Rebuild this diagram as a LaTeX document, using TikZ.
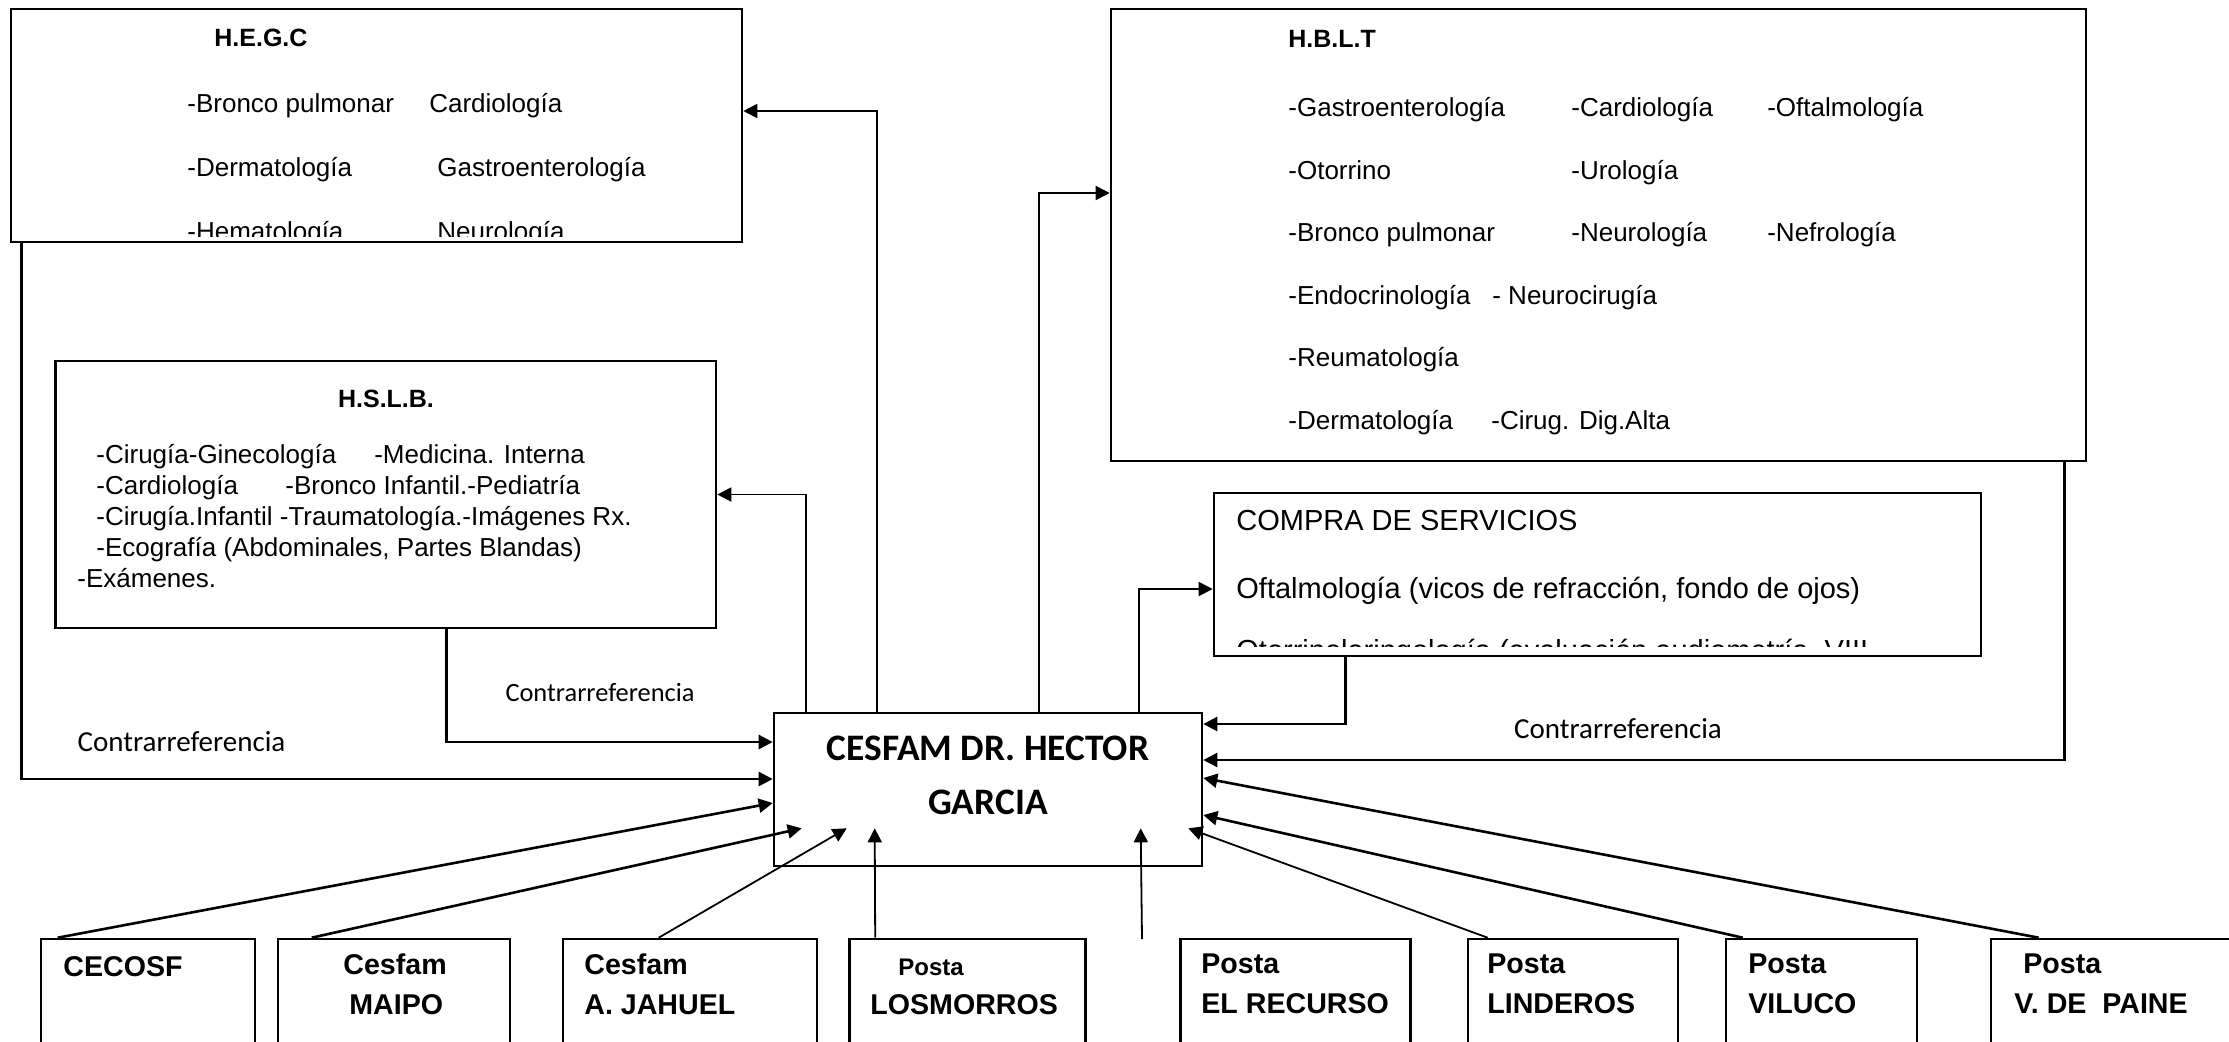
\documentclass[tikz,border=0pt]{standalone}
\usepackage{fontspec}
\setmainfont{Liberation Sans}
\newfontfamily\carlito{Carlito}
\usetikzlibrary{arrows.meta}

\begin{document}
\begin{tikzpicture}[
        x=0.5pt, y=-0.5pt,
        box/.style={rectangle, draw=black, line width=1.3pt, inner sep=0pt},
        stopbox/.style={box, minimum height=80.5pt},
        boxtext/.style={anchor=north west, inner sep=0pt, align=left, font=\fontsize{13}{32.5}\selectfont},
        title/.style={inner sep=0pt, font=\bfseries\fontsize{12.5}{15}\selectfont},
        stoptext/.style={anchor=north west, inner sep=0pt, align=left, font=\bfseries\fontsize{14.3}{20}\selectfont},
        note/.style={inner sep=0pt, font=\carlito\fontsize{14.5}{17}\selectfont},
        arrow/.style={-{Triangle[length=7pt, width=7pt]}, line width=0.9pt},
        thickarrow/.style={arrow, line width=1.3pt}
    ]
    \clip (0,0) rectangle (2229,1041);

    % hospitales
    \node (hegc) [box, minimum width=365.5pt, minimum height=116.5pt] at (376.5,125.5) {};
    \node (hslb) [box, minimum width=330.25pt, minimum height=133.5pt] at (385.75,494.5) {};
    \node (hblt) [box, minimum width=487.5pt, minimum height=226pt] at (1598.5,235) {};
    \node (compra) [box, minimum width=383.5pt, minimum height=81.5pt] at (1597.5,574.5) {};
    \node (cesfam) [box, minimum width=214pt, minimum height=76.5pt] at (988,789.5) {};

    \node (hegctitle) [title, anchor=west] at (214,38) {H.E.G.C};
    \begin{scope}
        \clip (hegc.north west) rectangle ([shift={(0,-7)}]hegc.south east);
        \node (hegctext) [boxtext, font=\fontsize{13}{32}\selectfont] at (187,93) {\makebox[121pt][l]{-Bronco pulmonar}Cardiología\\
            \makebox[125pt][l]{-Dermatología}Gastroenterología\\
            \makebox[125pt][l]{-Hematología}Neurología};
    \end{scope}

    \node (hslbtitle) [title] at (386,399) {H.S.L.B.};
    \node (hslbtext) [boxtext, font=\fontsize{13}{15.5}\selectfont] at (96,444) {\makebox[139pt][l]{-Cirugía-Ginecología}-Medicina. Interna\\
        \makebox[94.5pt][l]{-Cardiología}-Bronco Infantil.-Pediatría\\
        -Cirugía.Infantil -Traumatología.-Imágenes Rx.\\
        -Ecografía (Abdominales, Partes Blandas)\\
        \hspace*{-9.5pt}-Exámenes.};

    \node (hblttitle) [title, anchor=west] at (1288,39) {H.B.L.T};
    \node (hblttext) [boxtext, font=\fontsize{13}{31.3}\selectfont] at (1288,97) {\makebox[141.5pt][l]{-Gastroenterología}\makebox[98pt][l]{-Cardiología}-Oftalmología\\
        \makebox[141.5pt][l]{-Otorrino}-Urología\\
        \makebox[141.5pt][l]{-Bronco pulmonar}\makebox[98pt][l]{-Neurología}-Nefrología\\
        \makebox[102pt][l]{-Endocrinología}- Neurocirugía\\
        -Reumatología\\
        \makebox[101.5pt][l]{-Dermatología}-Cirug. Dig.Alta};

    \begin{scope}
        \clip (compra.north west) rectangle ([shift={(0,-11)}]compra.south east);
        \node (compratext) [boxtext, font=\fontsize{14.5}{34}\selectfont] at (1236,510) {COMPRA DE SERVICIOS\\
            Oftalmología (vicos de refracción, fondo de ojos)\\[-3.3pt]
            Otorrinolaringología (evaluación audiometría, VIII};
    \end{scope}

    \node (cesfamtext) [inner sep=0pt, align=center, font=\carlito\bfseries\fontsize{18.7}{27}\selectfont] at (988,775) {CESFAM DR. HECTOR\\GARCIA};

    % establecimientos
    \node (cecosf) [stopbox, minimum width=107pt] at (148,1019.5) {};
    \node (maipo) [stopbox, minimum width=116pt] at (394,1019.5) {};
    \node (jahuel) [stopbox, minimum width=127pt] at (690,1019.5) {};
    \node (morros) [stopbox, minimum width=118pt] at (967.5,1019.5) {};
    \node (recurso) [stopbox, minimum width=115pt] at (1295.5,1019.5) {};
    \node (linderos) [stopbox, minimum width=105pt] at (1573,1019.5) {};
    \node (viluco) [stopbox, minimum width=95.5pt] at (1821.5,1019.5) {};
    \node (paine) [stopbox, minimum width=134.5pt] at (2125.5,1019.5) {};
    \coordinate (recursoin) at (1142,939);

    \node (cecosftext) [stoptext] at (63,956) {CECOSF};
    \node (maipotext) [stoptext] at (343,953) {Cesfam\\\hspace*{3pt}MAIPO};
    \node (jahueltext) [stoptext] at (584,953) {Cesfam\\A. JAHUEL};
    \node (morrostext) [stoptext] at (870,959) {\hspace*{14pt}{\fontsize{12}{14}\selectfont Posta}\\[-0.5pt]LOSMORROS};
    \node (recursotext) [stoptext] at (1201,953) {Posta\\EL RECURSO};
    \node (linderostext) [stoptext] at (1487,953) {Posta\\LINDEROS};
    \node (vilucotext) [stoptext] at (1748,953) {Posta\\VILUCO};
    \node (painetext) [stoptext] at (2014,953) {\hspace*{4.5pt}Posta\\V. DE \ PAINE};

    % referencias
    \draw [arrow] ([shift={(33,0)}]cesfam.north west) |- (hslb.east);
    \draw [arrow] ([shift={(104,0)}]cesfam.north west) |- ([shift={(0,-14.5)}]hegc.east);
    \draw [arrow] ([shift={(266,0)}]cesfam.north west) |- ([shift={(0,-42)}]hblt.west);
    \draw [arrow] ([shift={(366,0)}]cesfam.north west) |- ([shift={(0,14.5)}]compra.west);

    % contrarreferencias
    \draw [thickarrow] ([shift={(392.5,0)}]hslb.south west) |- ([shift={(0,-47.5)}]cesfam.west);
    \draw [thickarrow] ([shift={(12,0)}]hegc.south west) |- ([shift={(0,-10.5)}]cesfam.west);
    \draw [thickarrow] ([shift={(133,0)}]compra.south west) |- ([shift={(0,-65.5)}]cesfam.east);
    \draw [thickarrow] ([shift={(-23,0)}]hblt.south east) |- ([shift={(0,-29.5)}]cesfam.east);
    \node (lblhegc) [note] at (181.5,742) {Contrarreferencia};
    \node (lblhslb) [note, font=\carlito\fontsize{13.2}{16}\selectfont] at (600,692) {Contrarreferencia};
    \node (lblhblt) [note] at (1618,729) {Contrarreferencia};

    % derivaciones
    \draw [thickarrow] ([shift={(18,0)}]cecosf.north west) -- ([shift={(0,13.5)}]cesfam.west);
    \draw [thickarrow] ([shift={(35,0)}]maipo.north west) -- ([shift={(29,-39)}]cesfam.south west);
    \draw [arrow] ([shift={(97,0)}]jahuel.north west) -- ([shift={(74,-39)}]cesfam.south west);
    \draw [arrow] ([shift={(27,0)}]morros.north west) -- ([shift={(102,-39)}]cesfam.south west);
    \draw [arrow] (recursoin) -- ([shift={(368,-39)}]cesfam.south west);
    \draw [arrow] ([shift={(21,0)}]linderos.north west) -- ([shift={(-15,-39)}]cesfam.south east);
    \draw [thickarrow] ([shift={(18,0)}]viluco.north west) -- ([shift={(0,25.5)}]cesfam.east);
    \draw [thickarrow] ([shift={(49,0)}]paine.north west) -- ([shift={(0,-11.5)}]cesfam.east);

\end{tikzpicture}
\end{document}
